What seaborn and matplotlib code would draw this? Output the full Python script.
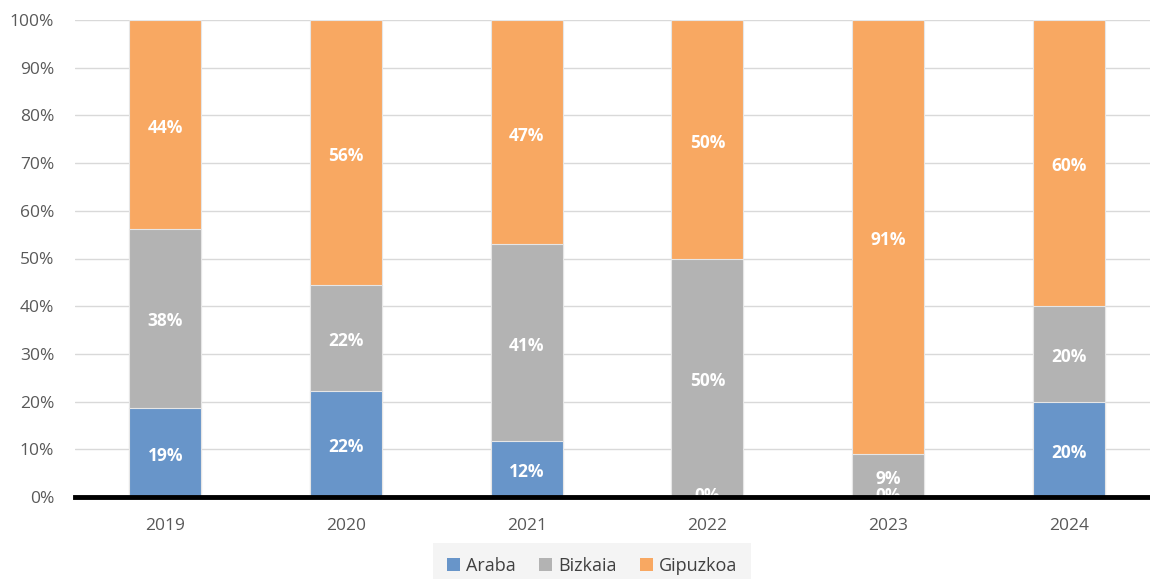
import numpy as np
import pandas as pd
import seaborn as sns
import matplotlib.pyplot as plt
from matplotlib.patches import Patch

years = ['2019', '2020', '2021', '2022', '2023', '2024']
araba = [18.75, 22.22, 11.76, 0.0, 0.0, 20.0]
bizkaia = [37.5, 22.22, 41.18, 50.0, 9.09, 20.0]
gipuzkoa = [43.75, 55.56, 47.06, 50.0, 90.91, 60.0]
series = ['Araba', 'Bizkaia', 'Gipuzkoa']
colors = ['#6895c9', '#b3b3b3', '#f8a862']

sns.set_theme(style='white')
plt.rcParams['font.family'] = ['Open Sans', 'DejaVu Sans']

df = pd.DataFrame({'year': years, 'Araba': araba, 'Bizkaia': bizkaia, 'Gipuzkoa': gipuzkoa})
# cumulative tops, drawn back to front
df['top_a'] = df['Araba']
df['top_b'] = df['Araba'] + df['Bizkaia']
df['top_g'] = df['top_b'] + df['Gipuzkoa']

fig = plt.figure(figsize=(11.5, 5.79), dpi=100)
ax = fig.add_axes([75 / 1150, 1 - 497 / 579, 1 - 75 / 1150, 477 / 579])

for col, c in zip(['top_g', 'top_b', 'top_a'], colors[::-1]):
    sns.barplot(data=df, x='year', y=col, color=c, width=0.4, saturation=1,
                edgecolor='#e6e6e6', linewidth=0.8, ax=ax, zorder=2)

ax.set_ylim(0, 100)
ax.set_xlim(-0.5, 5.45)
ax.set_yticks(np.arange(0, 101, 10))
ax.set_yticklabels([f'{v}%' for v in range(0, 101, 10)])
ax.yaxis.grid(True, color='#d9d9d9', linewidth=1, zorder=0)
ax.set_axisbelow(True)
ax.set_xlabel('')
ax.set_ylabel('')
ax.tick_params(axis='both', colors='#595959', labelsize=12.5, length=0)
ax.tick_params(axis='x', pad=15)
ax.tick_params(axis='y', pad=15)
for s in ['top', 'right', 'left']:
    ax.spines[s].set_visible(False)
ax.spines['bottom'].set_color('black')
ax.spines['bottom'].set_linewidth(3.5)
ax.spines['bottom'].set_zorder(5)

# data labels at segment centres (zero ones end up half hidden by the axis line)
for i in range(len(years)):
    bottoms = [0, araba[i], araba[i] + bizkaia[i]]
    for b, v in zip(bottoms, [araba[i], bizkaia[i], gipuzkoa[i]]):
        if v > 0:
            y = b + v / 2 - 0.7
        else:
            y = b + 0.2
        ax.text(i, y, f'{round(v)}%', ha='center', va='center',
                color='white', fontsize=12.5, fontweight='bold', zorder=3, clip_on=True)

handles = [Patch(facecolor=c, edgecolor='none') for c in colors]
leg = fig.legend(handles, series, loc='lower center', bbox_to_anchor=(0.515, -0.022), ncol=3,
                 frameon=True, fontsize=13, handlelength=0.7, handleheight=0.7,
                 handletextpad=0.35, columnspacing=1.3, borderpad=0.45)
leg.get_frame().set_facecolor('#f2f2f2')
leg.get_frame().set_edgecolor('none')
leg.get_frame().set_boxstyle('square')
for t in leg.get_texts():
    t.set_color('#404040')

fig.savefig('out.png', dpi=100)
